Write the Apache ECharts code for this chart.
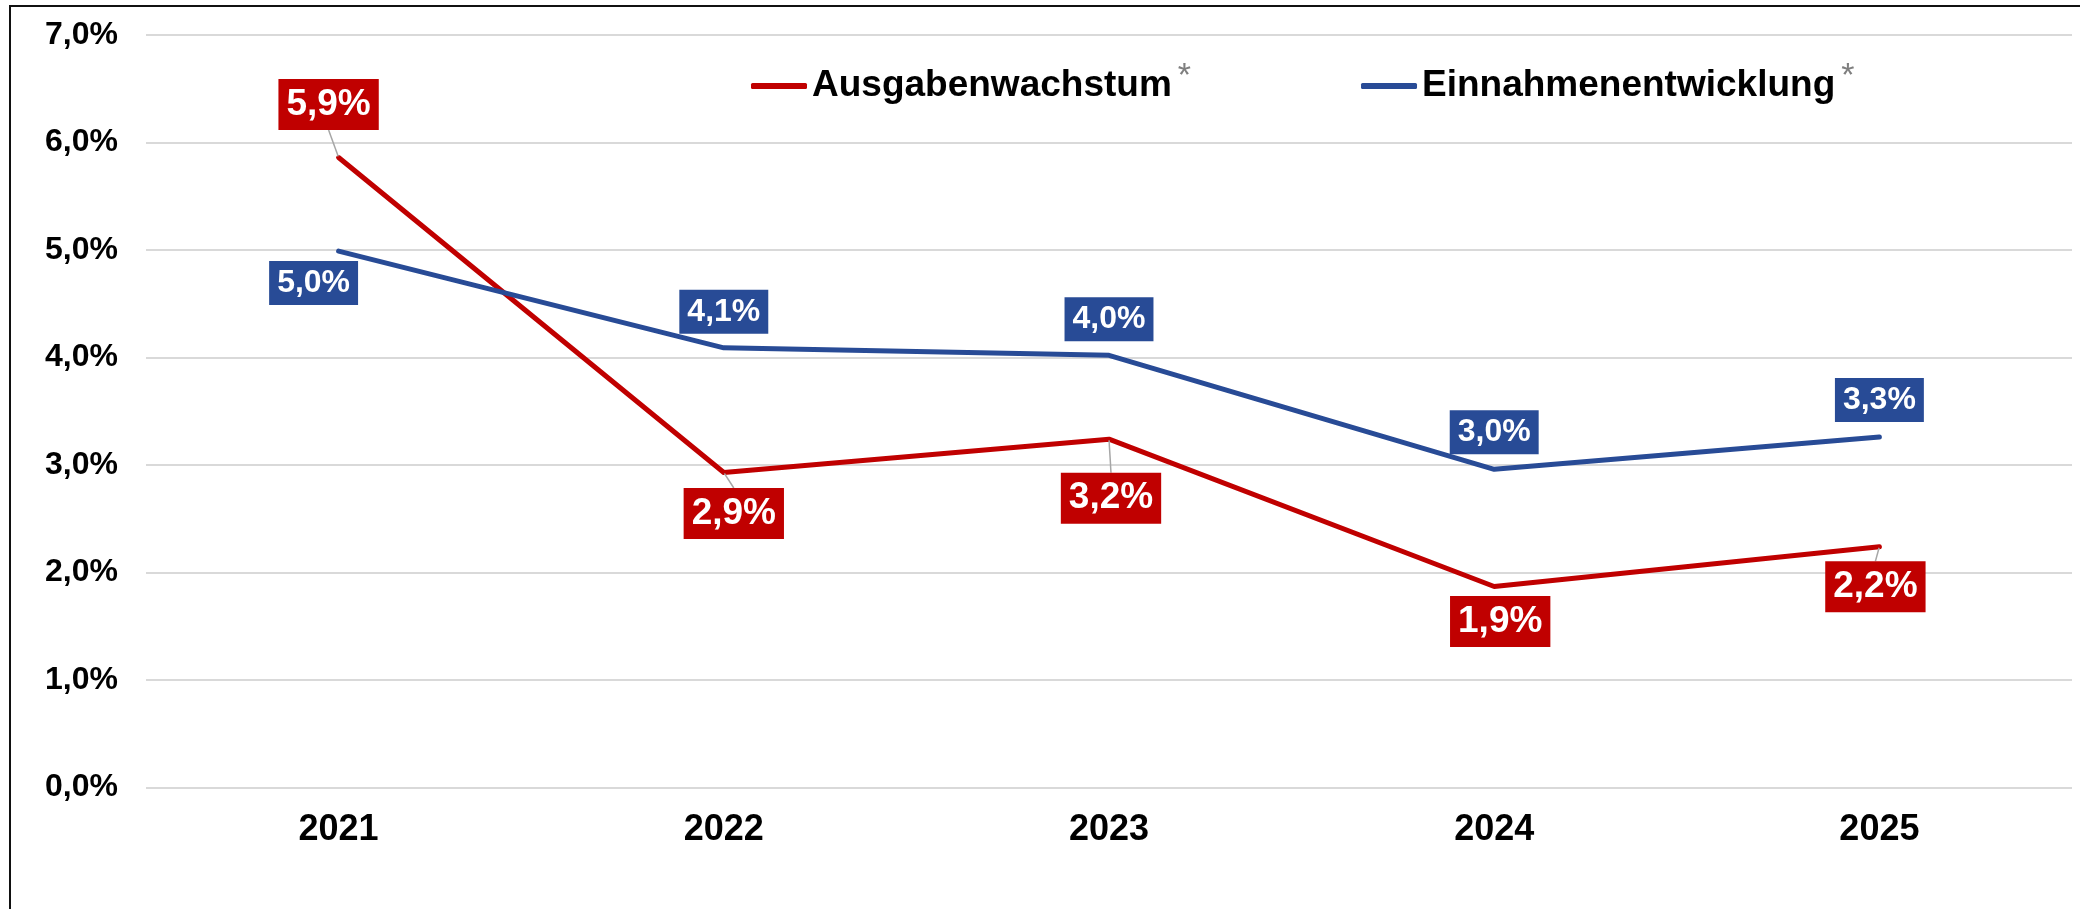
<!DOCTYPE html>
<html>
<head>
<meta charset="utf-8">
<script src="https://cdn.jsdelivr.net/npm/echarts@6/dist/echarts.min.js"></script>
<style>
  html, body { margin: 0; padding: 0; background: #fff; }
  #wrap { position: relative; width: 2080px; height: 909px; overflow: hidden; }
  #chart { width: 2080px; height: 909px; }
  /* Rahmen oben/links wie im Original */
  #frame { position: absolute; left: 9px; top: 5px; width: 2200px; height: 1000px;
           border-top: 2px solid #111; border-left: 2px solid #111; pointer-events: none; }
</style>
</head>
<body>
<div id="wrap">
  <div id="chart"></div>
  <div id="frame"></div>
</div>
<script>
// Daten
const years = ['2021', '2022', '2023', '2024', '2025'];
const ausgaben = [5.86, 2.93, 3.24, 1.87, 2.24];
const einnahmen = [4.99, 4.09, 4.02, 2.96, 3.26];
const yTicks = [0, 1, 2, 3, 4, 5, 6, 7];

// Label-Verschiebung relativ zum Punkt (px)
const ausgabenOffsets = [[-10, -53], [10, 41], [2, 59], [6, 35], [-4, 40]];
const einnahmenOffsets = [[-25, 32], [0, -36], [0, -36], [0, -37], [0, -37]];
const ausgabenLeader = [true, true, true, false, true];

const RED = '#C00000';
const BLUE = '#284B96';
const FONT = '"Liberation Sans", Arial, sans-serif';

const fmt = v => v.toFixed(1).replace('.', ',') + '%';

const chart = echarts.init(document.getElementById('chart'));

const makeSeries = (name, values, color, offsets, leaders, fontSize, pad) => ({
  type: 'line',
  name: name,
  data: values.map((v, i) => ({
    value: v,
    labelLine: {show: !!(leaders && leaders[i])}
  })),
  symbol: 'circle',
  symbolSize: 2,
  showSymbol: true,
  animation: false,
  lineStyle: {color: color, width: 5, cap: 'round', join: 'round'},
  itemStyle: {color: color},
  label: {
    show: true,
    position: 'inside',
    formatter: p => fmt(p.value),
    color: '#fff',
    fontFamily: FONT,
    fontWeight: 'bold',
    fontSize: fontSize,
    lineHeight: fontSize + 1,
    backgroundColor: color,
    padding: pad
  },
  labelLine: {show: false, lineStyle: {color: '#A6A6A6', width: 1.5}},
  labelLayout: params => ({
    dx: offsets[params.dataIndex][0],
    dy: offsets[params.dataIndex][1]
  }),
  emphasis: {disabled: true}
});

const option = {
  backgroundColor: '#fff',
  animation: false,
  grid: {left: 146, right: 8, top: 35, bottom: 121.5, outerBoundsMode: 'none'},
  legend: {
    left: 746,
    top: 55,
    itemWidth: 56,
    itemHeight: 6,
    itemGap: 170,
    icon: 'roundRect',
    selectedMode: false,
    formatter: name => `{n|${name}}{a|*}`,
    textStyle: {
      rich: {
        n: {fontSize: 37, fontWeight: 'bold', color: '#000', fontFamily: FONT, lineHeight: 44},
        a: {fontSize: 34, color: '#7F7F7F', fontFamily: FONT, padding: [0, 0, 18, 6], lineHeight: 34}
      }
    },
    data: ['Ausgabenwachstum', 'Einnahmenentwicklung']
  },
  xAxis: {
    type: 'category',
    data: years,
    boundaryGap: true,
    axisLine: {show: false},
    axisTick: {show: false},
    axisLabel: {
      color: '#000', fontSize: 36, fontWeight: 'bold', fontFamily: FONT, margin: 25
    }
  },
  yAxis: {
    type: 'value',
    min: yTicks[0],
    max: yTicks[yTicks.length - 1],
    interval: 1,
    axisLine: {show: false},
    axisTick: {show: false},
    axisLabel: {
      color: '#000', fontSize: 32, fontWeight: 'bold', fontFamily: FONT, margin: 28,
      formatter: v => fmt(v)
    },
    splitLine: {lineStyle: {color: '#D9D9D9', width: 2}}
  },
  series: [
    makeSeries('Ausgabenwachstum', ausgaben, RED, ausgabenOffsets, ausgabenLeader, 37, [7, 8, 6, 8]),
    makeSeries('Einnahmenentwicklung', einnahmen, BLUE, einnahmenOffsets, null, 32, [6, 8, 5, 8])
  ]
};

chart.setOption(option);
</script>
</body>
</html>
